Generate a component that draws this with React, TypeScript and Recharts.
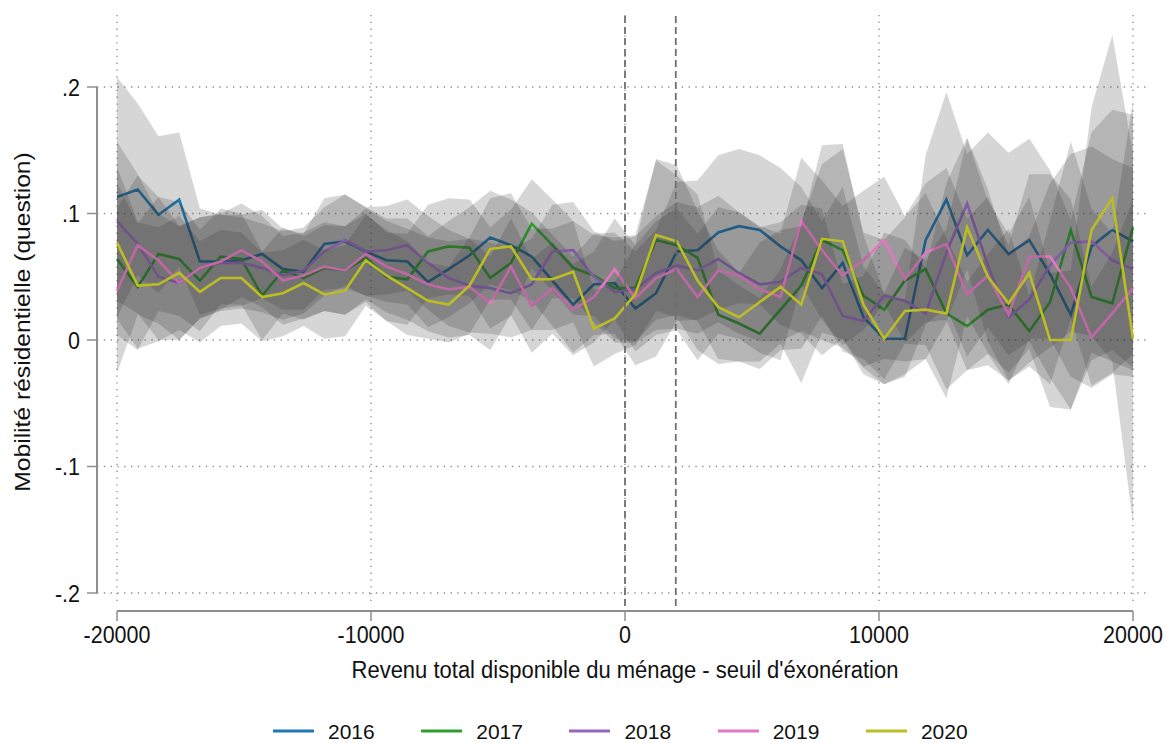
import React from "react";
import {
  Area,
  CartesianGrid,
  ComposedChart,
  Label,
  Legend,
  Line,
  ReferenceLine,
  XAxis,
  YAxis,
} from "recharts";

// bin centres (40000 / 49 apart)
const bins = [
  -20000, -19184, -18367, -17551, -16735, -15918, -15102, -14286, -13469, -12653,
  -11837, -11020, -10204, -9388, -8571, -7755, -6939, -6122, -5306, -4490,
  -3673, -2857, -2041, -1224, -408, 408, 1224, 2041, 2857, 3673,
  4490, 5306, 6122, 6939, 7755, 8571, 9388, 10204, 11020, 11837,
  12653, 13469, 14286, 15102, 15918, 16735, 17551, 18367, 19184, 20000,
];

const years = ["2016", "2017", "2018", "2019", "2020"];
const colors = ["#1f77b4", "#2ca02c", "#9467bd", "#e377c2", "#bcbd22"];

// point estimates
const v2016 = [
  0.113, 0.119, 0.099, 0.111, 0.062, 0.062, 0.063, 0.068, 0.056, 0.054,
  0.076, 0.078, 0.07, 0.063, 0.062, 0.046, 0.056, 0.067, 0.081, 0.075,
  0.066, 0.047, 0.028, 0.044, 0.045, 0.025, 0.037, 0.07, 0.071, 0.085,
  0.09, 0.087, 0.074, 0.063, 0.041, 0.061, 0.018, 0.001, 0.001, 0.079,
  0.111, 0.067, 0.087, 0.068, 0.079, 0.052, 0.02, 0.074, 0.087, 0.078,
];
const v2017 = [
  0.064, 0.042, 0.068, 0.064, 0.047, 0.066, 0.064, 0.035, 0.055, 0.049,
  0.057, 0.055, 0.065, 0.05, 0.048, 0.07, 0.074, 0.073, 0.049, 0.061,
  0.092, 0.075, 0.057, 0.051, 0.041, 0.041, 0.079, 0.075, 0.065, 0.02,
  0.013, 0.005, 0.024, 0.043, 0.079, 0.071, 0.035, 0.024, 0.047, 0.056,
  0.021, 0.011, 0.024, 0.028, 0.007, 0.03, 0.087, 0.034, 0.029, 0.089,
];
const v2018 = [
  0.094, 0.076, 0.05, 0.045, 0.057, 0.061, 0.061, 0.057, 0.051, 0.055,
  0.07, 0.079, 0.07, 0.071, 0.075, 0.061, 0.049, 0.043, 0.041, 0.037,
  0.044, 0.07, 0.071, 0.05, 0.038, 0.04, 0.053, 0.059, 0.055, 0.064,
  0.053, 0.044, 0.046, 0.057, 0.052, 0.019, 0.015, 0.035, 0.031, 0.021,
  0.069, 0.108, 0.059, 0.018, 0.032, 0.059, 0.077, 0.078, 0.063, 0.056,
];
const v2019 = [
  0.039, 0.075, 0.063, 0.045, 0.057, 0.062, 0.071, 0.062, 0.047, 0.051,
  0.058, 0.055, 0.068, 0.058, 0.052, 0.044, 0.04, 0.042, 0.029, 0.058,
  0.027, 0.041, 0.024, 0.034, 0.056, 0.033, 0.049, 0.056, 0.034, 0.055,
  0.051, 0.04, 0.034, 0.094, 0.071, 0.051, 0.063, 0.079, 0.048, 0.069,
  0.076, 0.036, 0.051, 0.02, 0.066, 0.066, 0.041, 0.002, 0.021, 0.041,
];
const v2020 = [
  0.077, 0.043, 0.044, 0.053, 0.038, 0.049, 0.049, 0.034, 0.037, 0.045,
  0.036, 0.039, 0.063, 0.051, 0.041, 0.031, 0.028, 0.043, 0.072, 0.074,
  0.048, 0.048, 0.054, 0.009, 0.017, 0.036, 0.083, 0.078, 0.047, 0.026,
  0.018, 0.03, 0.042, 0.028, 0.08, 0.078, 0.028, 0.001, 0.023, 0.024,
  0.021, 0.089, 0.05, 0.029, 0.053, 0.0, 0.0, 0.087, 0.112, 0.001,
];

// half-widths of the confidence bands
const h2016 = [
  0.095, 0.068, 0.062, 0.053, 0.042, 0.037, 0.036, 0.035, 0.032, 0.03,
  0.036, 0.037, 0.035, 0.033, 0.034, 0.036, 0.038, 0.038, 0.037, 0.036,
  0.035, 0.036, 0.038, 0.04, 0.04, 0.045, 0.05, 0.055, 0.055, 0.061,
  0.061, 0.059, 0.062, 0.058, 0.053, 0.06, 0.04, 0.036, 0.03, 0.067,
  0.085, 0.08, 0.077, 0.08, 0.08, 0.082, 0.075, 0.09, 0.095, 0.1,
];
const h2017 = [
  0.06, 0.05, 0.045, 0.045, 0.04, 0.038, 0.036, 0.035, 0.034, 0.033,
  0.034, 0.035, 0.035, 0.035, 0.036, 0.037, 0.038, 0.038, 0.04, 0.042,
  0.035, 0.036, 0.037, 0.032, 0.04, 0.042, 0.063, 0.055, 0.05, 0.035,
  0.03, 0.028, 0.032, 0.05, 0.06, 0.08, 0.05, 0.055, 0.05, 0.06,
  0.06, 0.035, 0.044, 0.06, 0.028, 0.065, 0.07, 0.07, 0.055, 0.1,
];
const h2018 = [
  0.063, 0.055, 0.05, 0.045, 0.04, 0.038, 0.036, 0.035, 0.035, 0.034,
  0.035, 0.036, 0.035, 0.035, 0.036, 0.037, 0.038, 0.037, 0.036, 0.035,
  0.036, 0.037, 0.038, 0.036, 0.04, 0.042, 0.045, 0.05, 0.05, 0.05,
  0.048, 0.045, 0.047, 0.05, 0.052, 0.025, 0.036, 0.05, 0.048, 0.036,
  0.055, 0.052, 0.06, 0.05, 0.05, 0.065, 0.07, 0.075, 0.08, 0.08,
];
const h2019 = [
  0.065, 0.055, 0.05, 0.045, 0.04, 0.038, 0.037, 0.036, 0.035, 0.034,
  0.035, 0.035, 0.036, 0.036, 0.036, 0.037, 0.038, 0.038, 0.037, 0.038,
  0.037, 0.036, 0.036, 0.036, 0.04, 0.042, 0.045, 0.048, 0.05, 0.05,
  0.05, 0.05, 0.05, 0.05, 0.055, 0.055, 0.055, 0.05, 0.05, 0.055,
  0.06, 0.06, 0.062, 0.055, 0.065, 0.065, 0.07, 0.04, 0.048, 0.07,
];
const h2020 = [
  0.06, 0.05, 0.045, 0.045, 0.04, 0.038, 0.036, 0.035, 0.034, 0.034,
  0.035, 0.036, 0.036, 0.036, 0.037, 0.03, 0.03, 0.038, 0.04, 0.042,
  0.04, 0.04, 0.04, 0.03, 0.028, 0.04, 0.06, 0.06, 0.055, 0.045,
  0.035, 0.047, 0.045, 0.062, 0.074, 0.077, 0.055, 0.036, 0.05, 0.039,
  0.067, 0.07, 0.06, 0.055, 0.06, 0.053, 0.055, 0.097, 0.129, 0.146,
];

const xTicks = [-20000, -10000, 0, 10000, 20000];
const yTicks = [-0.2, -0.1, 0, 0.1, 0.2];
const cutoffs = [0, 2000];

const values = [v2016, v2017, v2018, v2019, v2020];
const halfWidths = [h2016, h2017, h2018, h2019, h2020];

const data = bins.map((x, i) => {
  const row: Record<string, any> = { x };
  years.forEach((yr, k) => {
    const v = values[k][i];
    const h = halfWidths[k][i];
    row["v" + yr] = v;
    row["ci" + yr] = [v - h, v + h];
  });
  return row;
});

const FONT = "'Liberation Sans', Arial, Helvetica, sans-serif";
const INK = "#111";
const AXIS = "#8e8e8e";
const STRETCH = 1.12;

const fmtY = (v: number) =>
  v === 0 ? "0" : v.toFixed(1).replace("0.", ".");

function XTick({ x, payload }: any) {
  return (
    <g>
      <line x1={x} x2={x} y1={611} y2={621} stroke={AXIS} strokeWidth={1.5} />
      <text
        transform={`translate(${x},643) scale(1,${STRETCH})`}
        textAnchor="middle"
        fontSize={21.5}
        fill={INK}
      >
        {payload.value}
      </text>
    </g>
  );
}

function YTick({ y, payload }: any) {
  return (
    <g>
      <line x1={87} x2={97} y1={y} y2={y} stroke={AXIS} strokeWidth={1.5} />
      <text
        transform={`translate(80,${y}) scale(1,${STRETCH})`}
        textAnchor="end"
        dy="0.36em"
        fontSize={21.5}
        fill={INK}
      >
        {fmtY(payload.value)}
      </text>
    </g>
  );
}

function LegendBox() {
  return (
    <div style={{ display: "flex", alignItems: "center", fontFamily: FONT, height: 17 }}>
      {years.map((yr, k) => (
        <div
          key={yr}
          style={{
            display: "flex",
            alignItems: "center",
            marginRight: k < years.length - 1 ? 46.5 : 0,
          }}
        >
          <svg width={41} height={6} style={{ display: "block" }}>
            <line x1={0} x2={41} y1={3} y2={3} stroke={colors[k]} strokeWidth={3} />
          </svg>
          <span
            style={{
              marginLeft: 14,
              fontSize: 21,
              lineHeight: "17px",
              color: INK,
            }}
          >
            {yr}
          </span>
        </div>
      ))}
    </div>
  );
}

export default function App() {
  return (
    <div
      style={{
        position: "absolute",
        left: 0,
        top: 0,
        width: 1166,
        height: 743,
        background: "#fff",
        fontFamily: FONT,
      }}
    >
      <ComposedChart
        width={1166}
        height={743}
        data={data}
        margin={{ top: 15, right: 20, bottom: 0, left: 0 }}
      >
        <CartesianGrid
          stroke="#8a8a8a"
          strokeWidth={1.3}
          strokeDasharray="1.3 5.5"
          horizontalValues={yTicks}
          verticalValues={xTicks}
        />
        <XAxis
          type="number"
          dataKey="x"
          domain={[-20787, 20512]}
          ticks={xTicks}
          interval={0}
          allowDataOverflow
          axisLine={false}
          tickLine={false}
          height={137}
          tick={<XTick />}
        >
          <Label
            content={() => (
              <text
                transform={`translate(625,678) scale(1,${STRETCH})`}
                textAnchor="middle"
                fontSize={22}
                fill={INK}
              >
                Revenu total disponible du ménage - seuil d'éxonération
              </text>
            )}
          />
        </XAxis>
        <YAxis
          type="number"
          domain={[-0.21028, 0.25692]}
          ticks={yTicks}
          interval={0}
          allowDataOverflow
          axisLine={false}
          tickLine={false}
          width={97}
          tick={<YTick />}
        >
          <Label
            content={() => (
              <text
                transform={`translate(30,322) rotate(-90) scale(${STRETCH},1)`}
                textAnchor="middle"
                fontSize={22}
                fill={INK}
              >
                Mobilité résidentielle (question)
              </text>
            )}
          />
        </YAxis>

        {/* each year: band, then its line, so later bands shade earlier lines */}
        {years.flatMap((yr, k) => [
          <Area
            key={"a" + yr}
            type="linear"
            dataKey={"ci" + yr}
            stroke="none"
            fill="#2e2e2e"
            fillOpacity={0.196}
            legendType="none"
            activeDot={false}
            isAnimationActive={false}
            zIndex={500 + 20 * k}
          />,
          <Line
            key={"l" + yr}
            type="linear"
            dataKey={"v" + yr}
            name={yr}
            stroke={colors[k]}
            strokeWidth={2.6}
            dot={false}
            activeDot={false}
            isAnimationActive={false}
            zIndex={510 + 20 * k}
          />,
        ])}

        {cutoffs.map((c) => (
          <ReferenceLine
            key={"c" + c}
            x={c}
            stroke="#6f6f6f"
            strokeWidth={1.8}
            strokeDasharray="7 4"
            zIndex={700}
          />
        ))}
        <ReferenceLine
          segment={[
            { x: -20787, y: -0.2 },
            { x: -20787, y: 0.2 },
          ]}
          ifOverflow="visible"
          stroke={AXIS}
          strokeWidth={2}
          zIndex={700}
        />
        <ReferenceLine
          segment={[
            { x: -20000, y: -0.21423 },
            { x: 20000, y: -0.21423 },
          ]}
          ifOverflow="visible"
          stroke={AXIS}
          strokeWidth={2}
          zIndex={700}
        />

        <Legend
          verticalAlign="middle"
          align="center"
          content={() => <LegendBox />}
          wrapperStyle={{ position: "absolute", top: 722.5, left: 273, width: "auto" }}
        />
      </ComposedChart>
    </div>
  );
}
